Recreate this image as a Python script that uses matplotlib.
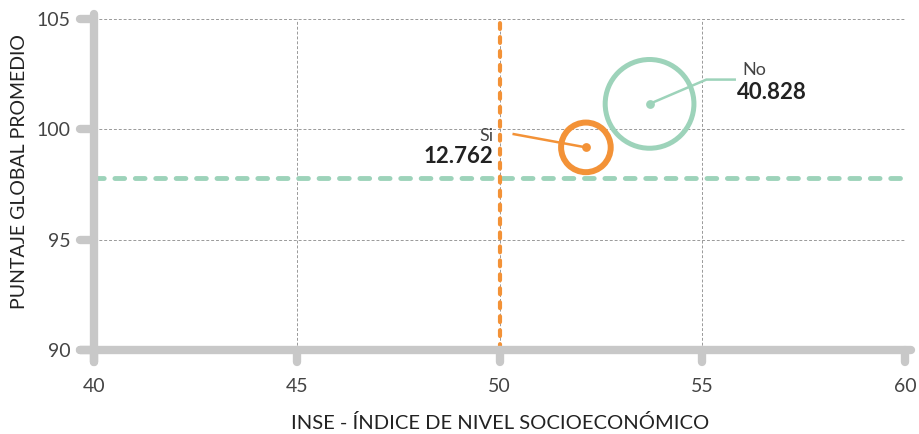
import matplotlib
matplotlib.use("Agg")
import matplotlib.pyplot as plt

plt.rcParams['font.family'] = ['Lato', 'DejaVu Sans']

groups = ["Si", "No"]
inse = [52.13, 53.7]
puntaje = [99.18, 101.15]
counts = [12762, 40828]
count_labels = ["12.762", "40.828"]
colors = ["#F39237", "#9DD3BA"]
avg_inse = 50.0
avg_puntaje = 97.78
xticks = [40, 45, 50, 55, 60]
yticks = [90, 95, 100, 105]

fig = plt.figure(figsize=(9.19, 4.34), dpi=100)
ax = fig.add_axes([0.1023, 0.1935, 0.8825, 0.763])
ax.set_xlim(40, 60)
ax.set_ylim(90, 105)
for s in ax.spines.values():
    s.set_visible(False)
ax.set_xticks(xticks)
ax.set_yticks(yticks)
ax.tick_params(length=0, labelsize=14, labelcolor="#444444")
ax.tick_params(axis='x', pad=20)
ax.tick_params(axis='y', pad=17)
ax.grid(True, color="#999999", linestyle=(0, (3, 2)), linewidth=0.7)

grey = "#C8C8C8"
lw_ax = 6
# axis lines
ax.plot([40, 40], [89.45, 105.2], color=grey, lw=lw_ax, solid_capstyle='round', clip_on=False, zorder=3)
ax.plot([39.65, 60.15], [90, 90], color=grey, lw=lw_ax, solid_capstyle='round', clip_on=False, zorder=3)
for xt in xticks:
    ax.plot([xt, xt], [90, 89.45], color=grey, lw=lw_ax, solid_capstyle='round', clip_on=False, zorder=3)
for yt in yticks:
    ax.plot([39.65, 40], [yt, yt], color=grey, lw=lw_ax, solid_capstyle='round', clip_on=False, zorder=3)

# reference lines
ax.axhline(avg_puntaje, color=colors[1], lw=3.5, linestyle=(0, (2, 2.2)), dash_capstyle='round', zorder=2)
ax.axvline(avg_inse, color=colors[0], lw=3, linestyle=(0, (1.4, 1.95)), dash_capstyle='round', zorder=2)

# bubbles
sizes = [c * 0.1 for c in counts]
lws = [4.3, 3.6]
for i in range(2):
    ax.scatter([inse[i]], [puntaje[i]], s=sizes[i], facecolors='none', edgecolors=colors[i],
               linewidths=lws[i], zorder=4)
    ax.scatter([inse[i]], [puntaje[i]], s=40, color=colors[i], zorder=5, linewidths=0)

# leader lines and labels
ax.plot([inse[0], 50.35], [puntaje[0], 99.78], color=colors[0], lw=1.8, zorder=5)
ax.text(49.85, 99.35, groups[0], ha='right', va='bottom', fontsize=13, color="#444444")
ax.text(49.85, 99.25, count_labels[0], ha='right', va='top', fontsize=16, fontweight='bold', color="#222222")

ax.plot([inse[1], 55.1, 55.8], [puntaje[1], 102.25, 102.25], color=colors[1], lw=1.8, zorder=5)
ax.text(56.0, 102.3, groups[1], ha='left', va='bottom', fontsize=13, color="#444444")
ax.text(55.85, 102.15, count_labels[1], ha='left', va='top', fontsize=16, fontweight='bold', color="#222222")

fig.text(500 / 919, 1 - 423 / 434, "INSE - ÍNDICE DE NIVEL SOCIOECONÓMICO", fontsize=14.5,
         color="#222222", ha='center', va='center')
fig.text(20 / 919, 1 - 172 / 434, "PUNTAJE GLOBAL PROMEDIO", fontsize=14, color="#222222",
         ha='center', va='center', rotation=90)

fig.savefig("out.png", dpi=100)
